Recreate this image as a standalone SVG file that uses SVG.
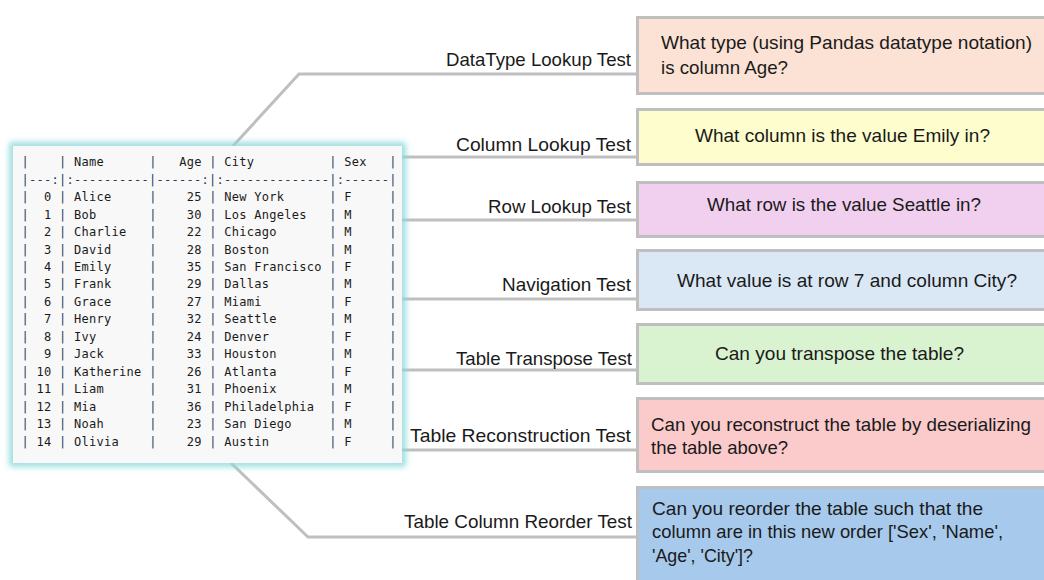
<svg xmlns="http://www.w3.org/2000/svg" width="1044" height="580" viewBox="0 0 1044 580">
<defs>
<filter id="glow" x="-10%" y="-10%" width="120%" height="120%">
<feGaussianBlur stdDeviation="3"/>
</filter>
<style>
.con{fill:none;stroke:#bfbfbf;stroke-width:3;stroke-linejoin:miter}
.box{stroke:#bfbfbf;stroke-width:3}
.lbl{font-family:"Liberation Sans",Arial,sans-serif;font-size:19px;fill:#1a1a1a}
.q{font-family:"Liberation Sans",Arial,sans-serif;font-size:19px;fill:#1a1a1a}
.mono text{font-family:"DejaVu Sans Mono","Liberation Mono",monospace;font-size:12px;letter-spacing:0.28px;fill:#1a1a1a;white-space:pre}
.mono .p{fill:#253a57}
</style>
</defs>
<rect width="1044" height="580" fill="#ffffff"/>

<g id="connectors">
<polyline class="con" points="233,146 299,74 637,74"/>
<line class="con" x1="402" y1="157" x2="637" y2="157"/>
<line class="con" x1="402" y1="220" x2="637" y2="220"/>
<line class="con" x1="402" y1="299" x2="637" y2="299"/>
<line class="con" x1="402" y1="370" x2="637" y2="370"/>
<line class="con" x1="402" y1="450" x2="637" y2="450"/>
<polyline class="con" points="231,463 308,537 637,537"/>
</g>

<g id="labels">
<text class="lbl" x="631" y="66" text-anchor="end" textLength="185" lengthAdjust="spacingAndGlyphs">DataType Lookup Test</text>
<text class="lbl" x="631" y="151" text-anchor="end" textLength="175" lengthAdjust="spacingAndGlyphs">Column Lookup Test</text>
<text class="lbl" x="631" y="213" text-anchor="end" textLength="143" lengthAdjust="spacingAndGlyphs">Row Lookup Test</text>
<text class="lbl" x="631" y="291" text-anchor="end" textLength="129" lengthAdjust="spacingAndGlyphs">Navigation Test</text>
<text class="lbl" x="632" y="365" text-anchor="end" textLength="176" lengthAdjust="spacingAndGlyphs">Table Transpose Test</text>
<text class="lbl" x="631" y="442" text-anchor="end" textLength="221" lengthAdjust="spacingAndGlyphs">Table Reconstruction Test</text>
<text class="lbl" x="632" y="528" text-anchor="end" textLength="228" lengthAdjust="spacingAndGlyphs">Table Column Reorder Test</text>
</g>

<g id="table">
<rect x="13" y="146" width="389" height="317" fill="none" stroke="#8fd9d9" stroke-width="7" filter="url(#glow)"/>
<rect x="13" y="146" width="389" height="317" fill="#f8f8f8"/>
<g class="mono">
<text xml:space="preserve" x="21.5" y="166.3"><tspan class="p">|</tspan>    <tspan class="p">|</tspan> Name      <tspan class="p">|</tspan>   Age <tspan class="p">|</tspan> City          <tspan class="p">|</tspan> Sex   <tspan class="p">|</tspan></text>
<text xml:space="preserve" x="21.5" y="183.7" class="p">|---:|:----------|------:|:--------------|:------|</text>
<text xml:space="preserve" x="21.5" y="201.2"><tspan class="p">|</tspan>  0 <tspan class="p">|</tspan> Alice     <tspan class="p">|</tspan>    25 <tspan class="p">|</tspan> New York      <tspan class="p">|</tspan> F     <tspan class="p">|</tspan></text>
<text xml:space="preserve" x="21.5" y="218.65"><tspan class="p">|</tspan>  1 <tspan class="p">|</tspan> Bob       <tspan class="p">|</tspan>    30 <tspan class="p">|</tspan> Los Angeles   <tspan class="p">|</tspan> M     <tspan class="p">|</tspan></text>
<text xml:space="preserve" x="21.5" y="236.1"><tspan class="p">|</tspan>  2 <tspan class="p">|</tspan> Charlie   <tspan class="p">|</tspan>    22 <tspan class="p">|</tspan> Chicago       <tspan class="p">|</tspan> M     <tspan class="p">|</tspan></text>
<text xml:space="preserve" x="21.5" y="253.55"><tspan class="p">|</tspan>  3 <tspan class="p">|</tspan> David     <tspan class="p">|</tspan>    28 <tspan class="p">|</tspan> Boston        <tspan class="p">|</tspan> M     <tspan class="p">|</tspan></text>
<text xml:space="preserve" x="21.5" y="271"><tspan class="p">|</tspan>  4 <tspan class="p">|</tspan> Emily     <tspan class="p">|</tspan>    35 <tspan class="p">|</tspan> San Francisco <tspan class="p">|</tspan> F     <tspan class="p">|</tspan></text>
<text xml:space="preserve" x="21.5" y="288.45"><tspan class="p">|</tspan>  5 <tspan class="p">|</tspan> Frank     <tspan class="p">|</tspan>    29 <tspan class="p">|</tspan> Dallas        <tspan class="p">|</tspan> M     <tspan class="p">|</tspan></text>
<text xml:space="preserve" x="21.5" y="305.9"><tspan class="p">|</tspan>  6 <tspan class="p">|</tspan> Grace     <tspan class="p">|</tspan>    27 <tspan class="p">|</tspan> Miami         <tspan class="p">|</tspan> F     <tspan class="p">|</tspan></text>
<text xml:space="preserve" x="21.5" y="323.35"><tspan class="p">|</tspan>  7 <tspan class="p">|</tspan> Henry     <tspan class="p">|</tspan>    32 <tspan class="p">|</tspan> Seattle       <tspan class="p">|</tspan> M     <tspan class="p">|</tspan></text>
<text xml:space="preserve" x="21.5" y="340.8"><tspan class="p">|</tspan>  8 <tspan class="p">|</tspan> Ivy       <tspan class="p">|</tspan>    24 <tspan class="p">|</tspan> Denver        <tspan class="p">|</tspan> F     <tspan class="p">|</tspan></text>
<text xml:space="preserve" x="21.5" y="358.25"><tspan class="p">|</tspan>  9 <tspan class="p">|</tspan> Jack      <tspan class="p">|</tspan>    33 <tspan class="p">|</tspan> Houston       <tspan class="p">|</tspan> M     <tspan class="p">|</tspan></text>
<text xml:space="preserve" x="21.5" y="375.7"><tspan class="p">|</tspan> 10 <tspan class="p">|</tspan> Katherine <tspan class="p">|</tspan>    26 <tspan class="p">|</tspan> Atlanta       <tspan class="p">|</tspan> F     <tspan class="p">|</tspan></text>
<text xml:space="preserve" x="21.5" y="393.15"><tspan class="p">|</tspan> 11 <tspan class="p">|</tspan> Liam      <tspan class="p">|</tspan>    31 <tspan class="p">|</tspan> Phoenix       <tspan class="p">|</tspan> M     <tspan class="p">|</tspan></text>
<text xml:space="preserve" x="21.5" y="410.6"><tspan class="p">|</tspan> 12 <tspan class="p">|</tspan> Mia       <tspan class="p">|</tspan>    36 <tspan class="p">|</tspan> Philadelphia  <tspan class="p">|</tspan> F     <tspan class="p">|</tspan></text>
<text xml:space="preserve" x="21.5" y="428.05"><tspan class="p">|</tspan> 13 <tspan class="p">|</tspan> Noah      <tspan class="p">|</tspan>    23 <tspan class="p">|</tspan> San Diego     <tspan class="p">|</tspan> M     <tspan class="p">|</tspan></text>
<text xml:space="preserve" x="21.5" y="445.5"><tspan class="p">|</tspan> 14 <tspan class="p">|</tspan> Olivia    <tspan class="p">|</tspan>    29 <tspan class="p">|</tspan> Austin        <tspan class="p">|</tspan> F     <tspan class="p">|</tspan></text>
</g>
</g>

<g id="q-datatype">
<rect class="box" x="637.5" y="17.5" width="420" height="76" fill="#fbe2d5"/>
<text class="q" x="661" y="49" textLength="371" lengthAdjust="spacingAndGlyphs">What type (using Pandas datatype notation)</text>
<text class="q" x="661" y="73.5" textLength="127" lengthAdjust="spacingAndGlyphs">is column Age?</text>
</g>
<g id="q-column">
<rect class="box" x="637.5" y="109.5" width="420" height="55" fill="#fefdcd"/>
<text class="q" x="842.5" y="142" text-anchor="middle" textLength="295" lengthAdjust="spacingAndGlyphs">What column is the value Emily in?</text>
</g>
<g id="q-row">
<rect class="box" x="637.5" y="182.5" width="420" height="54" fill="#f1cfee"/>
<text class="q" x="844" y="210.5" text-anchor="middle" textLength="274" lengthAdjust="spacingAndGlyphs">What row is the value Seattle in?</text>
</g>
<g id="q-navigation">
<rect class="box" x="637.5" y="250.5" width="420" height="59" fill="#dae8f6"/>
<text class="q" x="847" y="286.5" text-anchor="middle" textLength="340" lengthAdjust="spacingAndGlyphs">What value is at row 7 and column City?</text>
</g>
<g id="q-transpose">
<rect class="box" x="637.5" y="324.5" width="420" height="59" fill="#d9f2d0"/>
<text class="q" x="839.5" y="359.5" text-anchor="middle" textLength="249" lengthAdjust="spacingAndGlyphs">Can you transpose the table?</text>
</g>
<g id="q-reconstruction">
<rect class="box" x="637.5" y="398.5" width="420" height="73" fill="#fbcaca"/>
<text class="q" x="651" y="431" textLength="380" lengthAdjust="spacingAndGlyphs">Can you reconstruct the table by deserializing</text>
<text class="q" x="651" y="454" textLength="137" lengthAdjust="spacingAndGlyphs">the table above?</text>
</g>
<g id="q-reorder">
<rect class="box" x="637.5" y="487.5" width="420" height="100" fill="#a6c9ec"/>
<text class="q" x="652" y="514.5" textLength="331" lengthAdjust="spacingAndGlyphs">Can you reorder the table such that the</text>
<text class="q" x="652" y="538" textLength="351" lengthAdjust="spacingAndGlyphs">column are in this new order ['Sex', 'Name',</text>
<text class="q" x="652" y="561.5" textLength="101" lengthAdjust="spacingAndGlyphs">'Age', 'City']?</text>
</g>
</svg>
